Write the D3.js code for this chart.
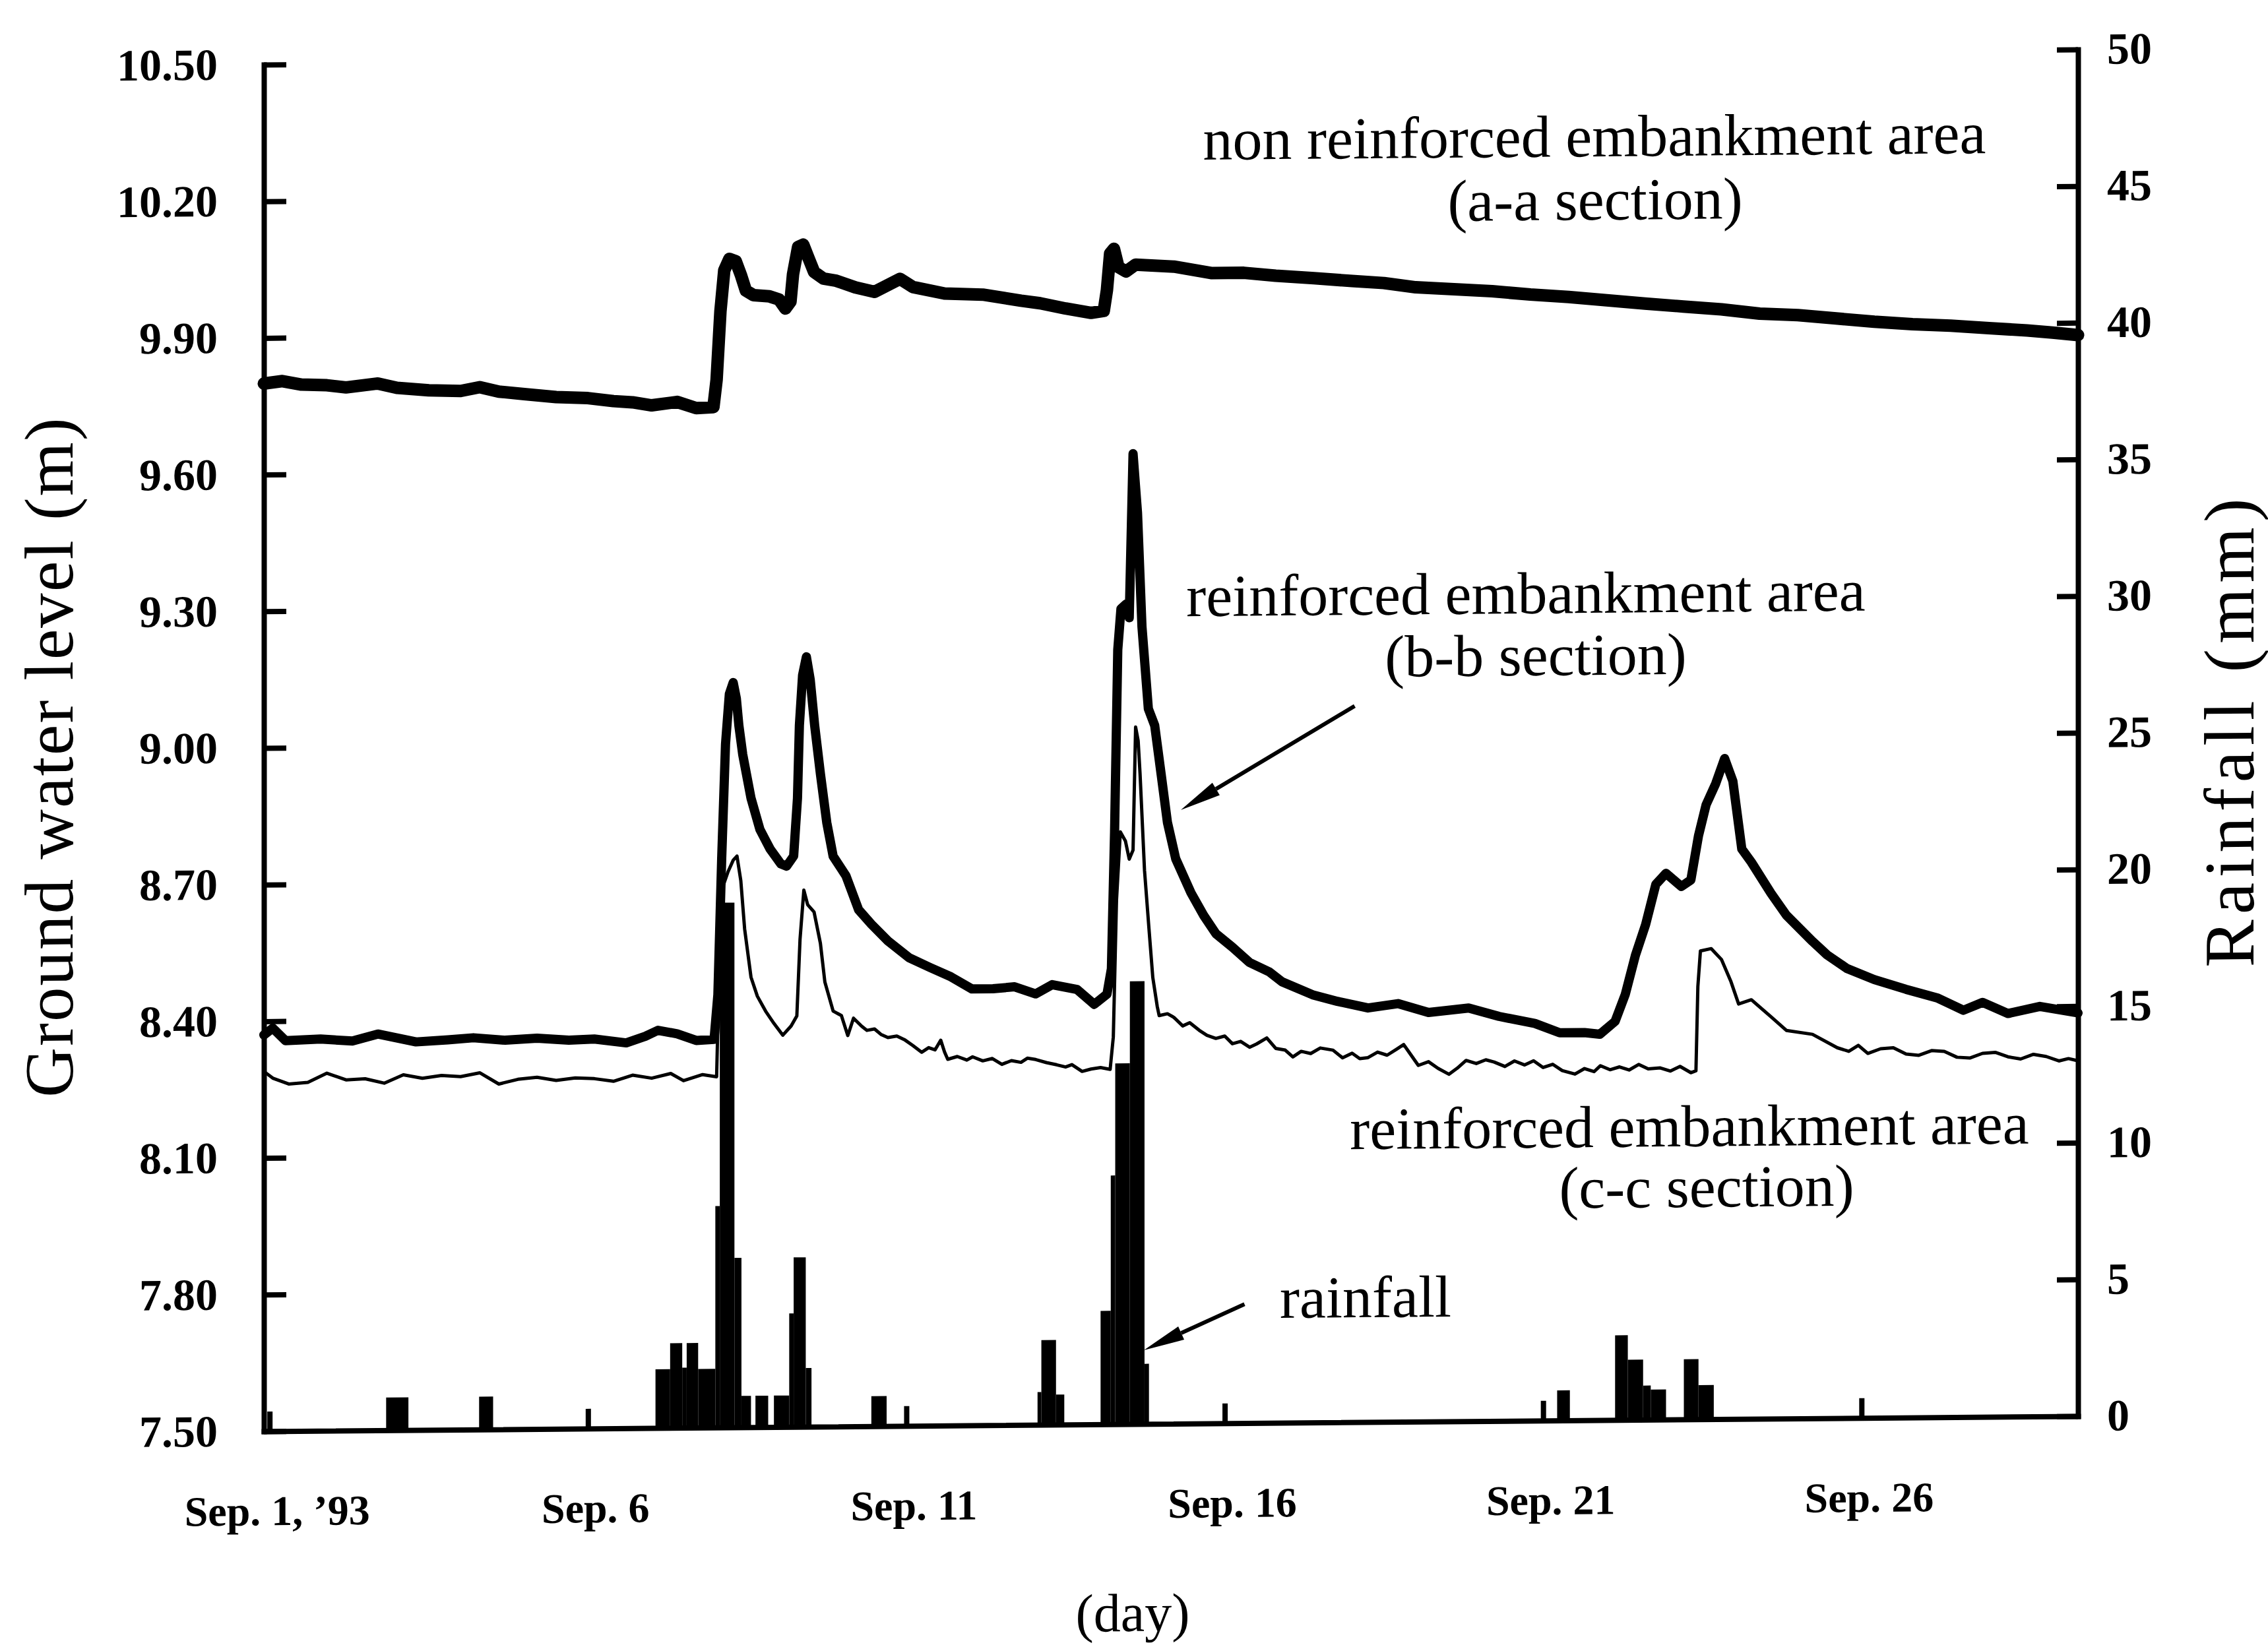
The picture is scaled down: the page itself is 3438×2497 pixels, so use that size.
<!DOCTYPE html>
<html>
<head>
<meta charset="utf-8">
<script src="https://cdn.jsdelivr.net/npm/d3@7/dist/d3.min.js"></script>
<style>
  html, body { margin: 0; padding: 0; background: #fff; }
  svg { display: block; font-family: "Liberation Serif", "Times New Roman", serif; }
</style>
</head>
<body>
<svg id="chart" width="3438" height="2497"></svg>
<script>
// days are counted from Sep. 1 1993, 00:00

// non reinforced embankment area (a-a section), ground water level (m)
var aaDay = [-0.09, 0.2, 0.5, 0.9, 1.2, 1.7, 2.0, 2.5, 3.0, 3.3, 3.6, 4.0, 4.5, 5.0, 5.4, 5.7, 6.0, 6.4, 6.7, 6.97,
  7.02, 7.08, 7.14, 7.22, 7.32, 7.40, 7.48, 7.6, 7.85, 8.0, 8.1, 8.18, 8.22, 8.3, 8.38, 8.45, 8.55, 8.7, 8.9, 9.2,
  9.5, 9.9, 10.1, 10.6, 11.2, 11.8, 12.1, 12.5, 12.9, 13.1, 13.15, 13.2, 13.26, 13.33, 13.45, 13.6, 14.2, 14.8,
  15.3, 15.8, 16.4, 17.0, 17.5, 18.0, 18.6, 19.2, 19.8, 20.4, 21.0, 21.6, 22.2, 22.8, 23.4, 24.0, 24.6, 25.2,
  25.8, 26.4, 27.0, 27.6, 28.0, 28.4];
var aaLevel = [9.80, 9.805, 9.797, 9.795, 9.79, 9.798, 9.788, 9.782, 9.78, 9.788, 9.778, 9.772, 9.765, 9.762, 9.755, 9.752, 9.745, 9.752, 9.738, 9.74,
  9.80, 9.95, 10.04, 10.065, 10.06, 10.03, 9.995, 9.985, 9.982, 9.975, 9.955, 9.97, 10.03, 10.09, 10.095, 10.07, 10.035, 10.02, 10.015, 10.0,
  9.99, 10.018, 10.0, 9.985, 9.982, 9.968, 9.962, 9.95, 9.94, 9.944, 9.99, 10.07, 10.08, 10.04, 10.03, 10.045, 10.04, 10.025,
  10.025, 10.018, 10.012, 10.005, 10.0, 9.99, 9.985, 9.98, 9.972, 9.966, 9.958, 9.95, 9.943, 9.936, 9.926, 9.922, 9.914, 9.906,
  9.90, 9.896, 9.89, 9.884, 9.879, 9.873];

// reinforced embankment area (b-b section)
var bbDay = [-0.09, 0.05, 0.25, 0.8, 1.3, 1.7, 2.3, 2.8, 3.2, 3.7, 4.2, 4.7, 5.1, 5.6, 5.9, 6.1, 6.4, 6.7, 6.98,
  7.04, 7.1, 7.16, 7.22, 7.28, 7.33, 7.37, 7.43, 7.56, 7.70, 7.86, 8.03, 8.12, 8.23, 8.29, 8.32, 8.37, 8.43, 8.49,
  8.56, 8.65, 8.75, 8.85, 9.05, 9.25, 9.45, 9.71, 10.04, 10.37, 10.70, 11.03, 11.36, 11.70, 12.03, 12.29, 12.68,
  12.95, 13.15, 13.22, 13.27, 13.32, 13.37, 13.45, 13.5, 13.56, 13.63, 13.7, 13.8, 13.9, 14.0, 14.1, 14.23, 14.47,
  14.67, 14.86, 15.12, 15.39, 15.7, 15.9, 16.38, 16.77, 17.25, 17.72, 18.2, 18.83, 19.31, 19.87, 20.26, 20.65,
  20.89, 21.13, 21.29, 21.45, 21.61, 21.77, 21.93, 22.17, 22.32, 22.44, 22.56, 22.71, 22.85, 22.98, 23.12, 23.27,
  23.58, 23.82, 24.23, 24.46, 24.77, 25.2, 25.7, 26.2, 26.6, 26.9, 27.3, 27.8, 28.2, 28.4];
var bbLevel = [8.37, 8.385, 8.357, 8.36, 8.355, 8.37, 8.352, 8.356, 8.36, 8.354, 8.358, 8.353, 8.355, 8.346, 8.36, 8.373, 8.365, 8.35, 8.352,
  8.45, 8.75, 9.0, 9.11, 9.135, 9.1, 9.04, 8.977, 8.881, 8.812, 8.769, 8.736, 8.731, 8.753, 8.88, 9.04, 9.15, 9.19, 9.14,
  9.039, 8.933, 8.826, 8.752, 8.709, 8.634, 8.602, 8.565, 8.528, 8.506, 8.485, 8.458, 8.458, 8.462, 8.446, 8.466, 8.455,
  8.422, 8.444, 8.5, 8.8, 9.2, 9.29, 9.30, 9.27, 9.63, 9.5, 9.25, 9.07, 9.033, 8.927, 8.82, 8.74, 8.665,
  8.615, 8.575, 8.545, 8.511, 8.49, 8.468, 8.439, 8.424, 8.409, 8.418, 8.398, 8.407, 8.388, 8.372, 8.351, 8.351,
  8.347, 8.375, 8.434, 8.52, 8.587, 8.675, 8.699, 8.670, 8.684, 8.781, 8.849, 8.895, 8.95, 8.90, 8.751, 8.722,
  8.653, 8.605, 8.547, 8.517, 8.487, 8.462, 8.44, 8.42, 8.393, 8.41, 8.385, 8.40, 8.39, 8.385];

// reinforced embankment area (c-c section)
var ccDay = [-0.09, 0.05, 0.3, 0.6, 0.9, 1.2, 1.5, 1.8, 2.1, 2.4, 2.7, 3.0, 3.3, 3.6, 3.9, 4.2, 4.5, 4.8, 5.1, 5.4,
  5.7, 6.0, 6.3, 6.5, 6.8, 7.02, 7.06, 7.1, 7.2, 7.28, 7.34, 7.4, 7.46, 7.56, 7.66, 7.79, 7.92, 8.06, 8.19, 8.28,
  8.33, 8.39, 8.45, 8.55, 8.65, 8.72, 8.85, 8.98, 9.08, 9.17, 9.3, 9.38, 9.5, 9.6, 9.71, 9.85, 9.98, 10.1, 10.24,
  10.35, 10.45, 10.54, 10.6, 10.65, 10.8, 10.95, 11.04, 11.2, 11.35, 11.5, 11.65, 11.8, 11.9, 12.03, 12.2, 12.36,
  12.5, 12.6, 12.76, 12.9, 13.05, 13.2, 13.25, 13.3, 13.36, 13.44, 13.5, 13.56, 13.6, 13.64, 13.67, 13.74, 13.81,
  13.87, 13.94, 13.97, 14.1, 14.2, 14.34, 14.45, 14.6, 14.72, 14.86, 15.0, 15.12, 15.25, 15.39, 15.5, 15.66, 15.8,
  15.95, 16.07, 16.2, 16.35, 16.5, 16.7, 16.85, 17.0, 17.12, 17.25, 17.4, 17.55, 17.7, 17.81, 17.9, 18.04, 18.2,
  18.35, 18.52, 18.65, 18.79, 18.95, 19.1, 19.23, 19.4, 19.55, 19.71, 19.85, 20.0, 20.15, 20.3, 20.5, 20.65, 20.8,
  20.9, 21.05, 21.2, 21.35, 21.5, 21.65, 21.84, 22.0, 22.15, 22.32, 22.4, 22.43, 22.47, 22.64, 22.8, 22.95, 23.07,
  23.27, 23.58, 23.82, 24.23, 24.62, 24.8, 24.95, 25.1, 25.3, 25.5, 25.7, 25.9, 26.1, 26.3, 26.5, 26.7, 26.9, 27.1,
  27.3, 27.5, 27.7, 27.9, 28.1, 28.25, 28.4];
var ccLevel = [8.29, 8.275, 8.262, 8.265, 8.285, 8.27, 8.272, 8.262, 8.28, 8.272, 8.278, 8.275, 8.283, 8.258, 8.268, 8.272, 8.265, 8.27, 8.268, 8.262,
  8.275, 8.268, 8.278, 8.262, 8.275, 8.27, 8.5, 8.68, 8.72, 8.745, 8.754, 8.70, 8.594, 8.488, 8.446, 8.413, 8.386, 8.36, 8.38, 8.402,
  8.57, 8.678, 8.646, 8.63, 8.561, 8.476, 8.412, 8.402, 8.358, 8.396, 8.378, 8.369, 8.372, 8.36, 8.353, 8.356, 8.347, 8.335, 8.32,
  8.33, 8.325, 8.346, 8.32, 8.304, 8.31, 8.302, 8.309, 8.30, 8.305, 8.292, 8.30, 8.296, 8.305, 8.302, 8.295, 8.29,
  8.285, 8.29, 8.275, 8.28, 8.283, 8.279, 8.35, 8.65, 8.80, 8.78, 8.74, 8.76, 9.03, 9.0, 8.927, 8.715, 8.587,
  8.48, 8.416, 8.396, 8.40, 8.392, 8.373, 8.38, 8.363, 8.352, 8.345, 8.35, 8.333, 8.338, 8.325, 8.332, 8.345, 8.322,
  8.318, 8.303, 8.315, 8.31, 8.322, 8.317, 8.30, 8.31, 8.298, 8.30, 8.312, 8.305, 8.318, 8.328, 8.31, 8.282, 8.29,
  8.275, 8.262, 8.275, 8.292, 8.285, 8.293, 8.288, 8.278, 8.29, 8.281, 8.29, 8.275, 8.282, 8.268, 8.26, 8.272, 8.265,
  8.278, 8.269, 8.275, 8.268, 8.28, 8.27, 8.272, 8.265, 8.275, 8.261, 8.265, 8.45, 8.528, 8.533, 8.509, 8.46, 8.411,
  8.42, 8.382, 8.352, 8.343, 8.313, 8.305, 8.318, 8.30, 8.31, 8.312, 8.298, 8.295, 8.305, 8.303, 8.29, 8.288, 8.298, 8.30,
  8.29, 8.285, 8.295, 8.29, 8.28, 8.285, 8.28];

// rainfall (mm), one bar per interval [start, end) in days
var rainStart = [1.83, 3.29, 6.06, 6.29, 6.48, 6.55, 6.73, 7.0, 7.07, 7.30, 7.41, 7.63, 7.92, 8.16, 8.23, 8.42,
  9.45, 12.06, 12.12, 12.35, 13.05, 13.21, 13.28, 13.51, 13.74, 20.22, 21.13, 21.33, 21.57, 21.69, 22.21, 22.44];
var rainEnd = [2.18, 3.51, 6.29, 6.48, 6.55, 6.73, 7.0, 7.07, 7.30, 7.41, 7.56, 7.83, 8.16, 8.23, 8.42, 8.51,
  9.69, 12.12, 12.35, 12.48, 13.21, 13.28, 13.51, 13.74, 13.81, 20.42, 21.33, 21.57, 21.69, 21.93, 22.44, 22.68];
var rainMm = [1.2, 1.2, 2.15, 3.1, 2.2, 3.1, 2.15, 8.1, 19.2, 6.2, 1.15, 1.15, 1.15, 4.15, 6.2, 2.15,
  1.1, 1.2, 3.1, 1.1, 4.15, 9.1, 13.2, 16.2, 2.2, 1.1, 3.1, 2.2, 1.25, 1.1, 2.2, 1.25];

var leftTicks = [7.50, 7.80, 8.10, 8.40, 8.70, 9.00, 9.30, 9.60, 9.90, 10.20, 10.50];
var rightTicks = [0, 5, 10, 15, 20, 25, 30, 35, 40, 45, 50];
var dayTicks = [0, 5, 10, 15, 20, 25];
var dayLabels = ["Sep. 1, \u201993", "Sep. 6", "Sep. 11", "Sep. 16", "Sep. 21", "Sep. 26"];

var plotLeft = 400, plotRight = 3150, plotTop = 98, plotBottom = 2170;

var x = d3.scaleLinear().domain([-0.09, 28.4]).range([plotLeft, plotRight]);
var yL = d3.scaleLinear().domain([7.5, 10.5]).range([plotBottom, plotTop]);
var yR = d3.scaleLinear().domain([0, 50]).range([plotBottom, plotTop]);

var svg = d3.select("#chart");
svg.append("rect").attr("width", 3438).attr("height", 2497).attr("fill", "#fff");

// the scanned figure leans a little: right side sits higher than the left
var g = svg.append("g")
  .attr("transform", "translate(" + plotLeft + ",0) skewY(-0.48) translate(" + (-plotLeft) + ",0)");

// rainfall bars
g.append("g").selectAll("rect")
  .data(rainMm)
  .enter()
  .append("rect")
  .attr("x", function (d, i) { return x(rainStart[i]); })
  .attr("width", function (d, i) { return x(rainEnd[i]) - x(rainStart[i]); })
  .attr("y", function (d) { return yR(d); })
  .attr("height", function (d) { return yR(0) - yR(d); })
  .attr("fill", "#000");

// water level lines
var line = d3.line()
  .x(function (d) { return x(d[0]); })
  .y(function (d) { return yL(d[1]); });

var series = [
  { day: ccDay, level: ccLevel, width: 5 },
  { day: bbDay, level: bbLevel, width: 14 },
  { day: aaDay, level: aaLevel, width: 19 }
];

g.append("g").selectAll("path")
  .data(series)
  .enter()
  .append("path")
  .attr("d", function (d) { return line(d3.zip(d.day, d.level)); })
  .attr("fill", "none")
  .attr("stroke", "#000")
  .attr("stroke-width", function (d) { return d.width; })
  .attr("stroke-linejoin", "round")
  .attr("stroke-linecap", "round");

// axes
function styleAxis(sel, size) {
  sel.attr("font-family", null).attr("font-size", null);
  sel.select(".domain").attr("stroke-width", 8).attr("stroke-linecap", "square");
  sel.selectAll(".tick line").attr("stroke-width", 8);
  sel.selectAll(".tick text")
    .attr("fill", "#000")
    .style("font-size", size + "px")
    .style("font-weight", "bold");
}

g.append("g")
  .attr("transform", "translate(" + plotLeft + ",0)")
  .call(d3.axisLeft(yL).tickValues(leftTicks).tickFormat(d3.format(".2f"))
    .tickSize(-34).tickSizeOuter(0).tickPadding(70))
  .call(styleAxis, 68);

g.append("g")
  .attr("transform", "translate(" + plotRight + ",0)")
  .call(d3.axisRight(yR).tickValues(rightTicks)
    .tickSize(-32).tickSizeOuter(0).tickPadding(44))
  .call(styleAxis, 68);

g.append("g")
  .attr("transform", "translate(0," + plotBottom + ")")
  .call(d3.axisBottom(x).tickValues(dayTicks)
    .tickFormat(function (d, i) { return dayLabels[i]; })
    .tickSize(-30).tickSizeOuter(0).tickPadding(97))
  .call(styleAxis, 64)
  .selectAll(".tick text").attr("dx", 11);

// axis titles
g.append("text")
  .attr("transform", "translate(110,1145) rotate(-90)")
  .attr("text-anchor", "middle")
  .style("font-size", "105px")
  .style("letter-spacing", "2px")
  .text("Ground water level (m)");

g.append("text")
  .attr("transform", "translate(3416,1132) rotate(-90)")
  .attr("text-anchor", "middle")
  .style("font-size", "108px")
  .style("letter-spacing", "8px")
  .text("Rainfall (mm)");

g.append("text")
  .attr("x", 1717).attr("y", 2484)
  .attr("text-anchor", "middle")
  .style("font-size", "82px")
  .text("(day)");

// annotations
var notes = [
  { t: "non reinforced embankment area", x: 2417, y: 254 },
  { t: "(a-a section)", x: 2418, y: 350 },
  { t: "reinforced embankment area", x: 2313, y: 946 },
  { t: "(b-b section)", x: 2328, y: 1040 },
  { t: "reinforced embankment area", x: 2561, y: 1756 },
  { t: "(c-c section)", x: 2587, y: 1848 },
  { t: "rainfall", x: 2070, y: 2011 }
];

g.append("g").selectAll("text")
  .data(notes)
  .enter()
  .append("text")
  .attr("x", function (d) { return d.x; })
  .attr("y", function (d) { return d.y; })
  .attr("text-anchor", "middle")
  .style("font-size", "90px")
  .text(function (d) { return d.t; });

// arrows: tail near the note, head on the curve  [day, level]
var arrows = [
  { from: [17.04, 9.072], to: [14.31, 8.847] },
  { from: [15.31, 7.761], to: [13.73, 7.662] }
];

arrows.forEach(function (a) {
  var x1 = x(a.from[0]), y1 = yL(a.from[1]), x2 = x(a.to[0]), y2 = yL(a.to[1]);
  var ang = Math.atan2(y2 - y1, x2 - x1);
  var len = 62, half = 11;
  var bx = x2 - len * Math.cos(ang), by = y2 - len * Math.sin(ang);
  g.append("line")
    .attr("x1", x1).attr("y1", y1).attr("x2", bx).attr("y2", by)
    .attr("stroke", "#000").attr("stroke-width", 6);
  g.append("path")
    .attr("d", "M" + x2 + "," + y2 +
      "L" + (bx + half * Math.sin(ang)) + "," + (by - half * Math.cos(ang)) +
      "L" + (bx - half * Math.sin(ang)) + "," + (by + half * Math.cos(ang)) + "Z")
    .attr("fill", "#000");
});
</script>
</body>
</html>
